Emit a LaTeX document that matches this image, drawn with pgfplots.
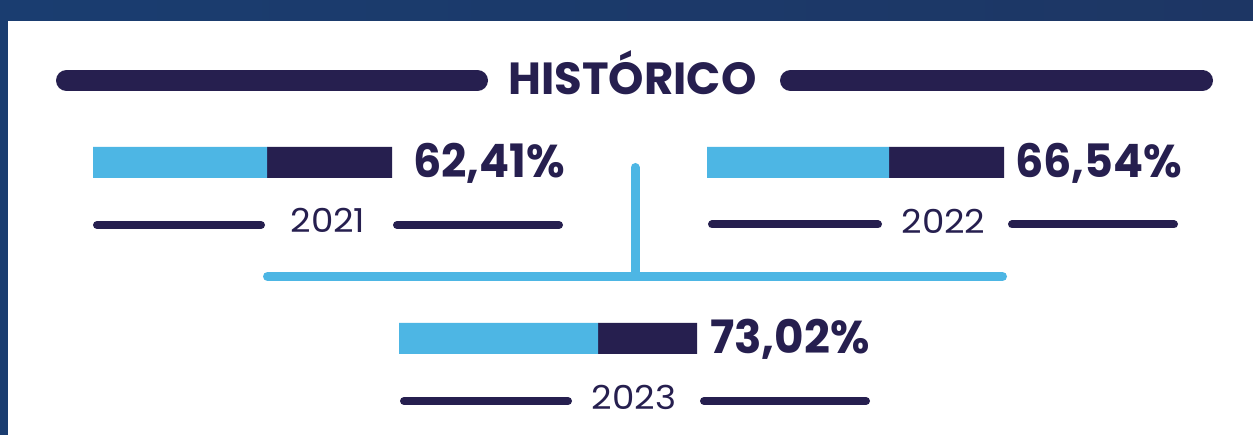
\documentclass[border=0pt]{standalone}
\usepackage{fontspec}
\setmainfont{Poppins}
\usepackage{pgfplots}
\pgfplotsset{compat=1.18}
\definecolor{navy}{HTML}{261F4F}
\definecolor{sky}{HTML}{4DB6E4}
\definecolor{frameL}{HTML}{1A3D70}
\definecolor{frameR}{HTML}{1D3664}
\begin{document}
\begin{tikzpicture}
% frame and panel
\shade[left color=frameL, right color=frameR] (0pt,0pt) rectangle (1253pt,435pt);
\fill[white] (8pt,0pt) rectangle (1253pt,414pt);
\begin{axis}[
  at={(0pt,0pt)}, anchor=south west,
  scale only axis, width=1253pt, height=435pt,
  xmin=0, xmax=1253, ymin=0, ymax=435,
  y dir=reverse, hide axis, clip=false,
  xbar stacked, bar width=31pt,
]
% title lines
\draw[navy, line width=21pt, line cap=round] (axis cs:66.5,80.5) -- (axis cs:477.5,80.5);
\draw[navy, line width=21pt, line cap=round] (axis cs:790.5,80.5) -- (axis cs:1202.5,80.5);
\node[anchor=base, text=navy, inner sep=0pt, font=\fontsize{45}{45}\selectfont\bfseries] at (axis cs:632.5,95) {HISTÓRICO};
% connector
\draw[sky, line width=9pt, line cap=round, line join=round] (axis cs:635,167.5) -- (axis cs:635,276.5);
\draw[sky, line width=9pt, line cap=round] (axis cs:267.5,276.5) -- (axis cs:1002.5,276.5);
% bars
\addplot[draw=none, fill=none] coordinates {(93,162.5) (707,162.5) (399,338.5)};
\addplot[draw=none, fill=sky] coordinates {(174,162.5) (182,162.5) (199,338.5)};
\addplot[draw=none, fill=navy] coordinates {(125,162.5) (115,162.5) (99,338.5)};
% values
\node[anchor=base west, xscale=0.965, text=navy, inner sep=0pt, font=\fontsize{46}{46}\selectfont\bfseries] at (axis cs:413,178) {62,41\%};
\node[anchor=base west, xscale=0.965, text=navy, inner sep=0pt, font=\fontsize{46}{46}\selectfont\bfseries] at (axis cs:1015,178) {66,54\%};
\node[anchor=base west, xscale=0.985, text=navy, inner sep=0pt, font=\fontsize{46}{46}\selectfont\bfseries] at (axis cs:710,354) {73,02\%};
% year lines
\draw[navy, line width=8pt, line cap=round] (axis cs:97,225) -- (axis cs:261,225);
\draw[navy, line width=8pt, line cap=round] (axis cs:397,225) -- (axis cs:559,225);
\draw[navy, line width=8pt, line cap=round] (axis cs:712,224.5) -- (axis cs:878,224.5);
\draw[navy, line width=8pt, line cap=round] (axis cs:1012,224.5) -- (axis cs:1174,224.5);
\draw[navy, line width=8pt, line cap=round] (axis cs:404,401) -- (axis cs:568,401);
\draw[navy, line width=8pt, line cap=round] (axis cs:704,401) -- (axis cs:866,401);
\node[anchor=base, xscale=1.08, text=navy, inner sep=0pt, font=\fontsize{33}{33}\selectfont] at (axis cs:328,233) {2021};
\node[anchor=base, xscale=1.08, text=navy, inner sep=0pt, font=\fontsize{33}{33}\selectfont] at (axis cs:943.5,233.5) {2022};
\node[anchor=base, xscale=1.08, text=navy, inner sep=0pt, font=\fontsize{33}{33}\selectfont] at (axis cs:634,410) {2023};
\end{axis}
\end{tikzpicture}
\end{document}
